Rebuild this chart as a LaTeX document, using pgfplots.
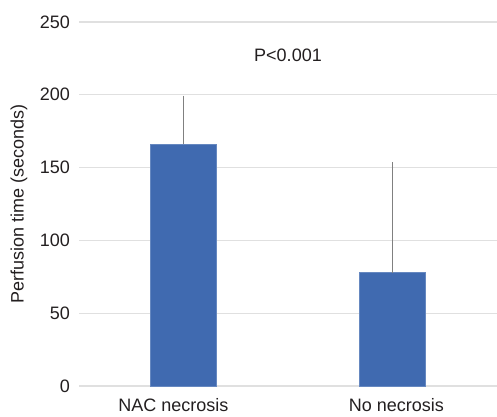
\documentclass[border=0pt]{standalone}
\usepackage{fontspec}
\setmainfont{Liberation Sans}
\usepackage{pgfplots}
\pgfplotsset{compat=1.18}
\definecolor{barblue}{RGB}{64,106,176}
\definecolor{txt}{RGB}{35,31,32}
\begin{document}
\fontsize{18}{21}\selectfont
\begin{tikzpicture}
\useasboundingbox (0,0) rectangle (497pt,416pt);
\begin{axis}[
  at={(79pt,30pt)}, anchor=south west,
  scale only axis, width=418pt, height=364pt,
  xmin=-0.5, xmax=1.5, ymin=0, ymax=250,
  axis line style={draw=none},
  ytick={0,50,...,250}, xtick={0,1},
  xticklabels={\hspace*{-20pt}NAC necrosis, \hspace*{8pt}No necrosis},
  major tick length=0pt,
  ymajorgrids, grid style={color=black!12, line width=1.2pt},
  tick label style={font=\fontsize{18}{21}\selectfont, text=txt},
  yticklabel style={xshift=-3pt},
  xticklabel style={yshift=-6pt},
  /pgf/number format/assume math mode=true,
  ylabel={Perfusion time (seconds)},
  ylabel style={at={(axis description cs:-0.1435,0.5)}, anchor=center, font=\fontsize{18}{21}\selectfont, text=txt},
  ybar, bar width=66pt,
  clip=false,
]
\addplot[fill=barblue, draw=barblue!80!white, line width=0.8pt,
  error bars/.cd, y dir=plus, y explicit,
  error bar style={color=black!50, line width=1pt},
  error mark options={mark size=2pt, black!50}]
  coordinates {(0,166.2) +- (0,31.9) (1,77.8) +- (0,74.6)};
\node[text=txt, font=\fontsize{18}{21}\selectfont] at (axis cs:0.5,227) {P<0.001};
\end{axis}
\end{tikzpicture}
\end{document}
